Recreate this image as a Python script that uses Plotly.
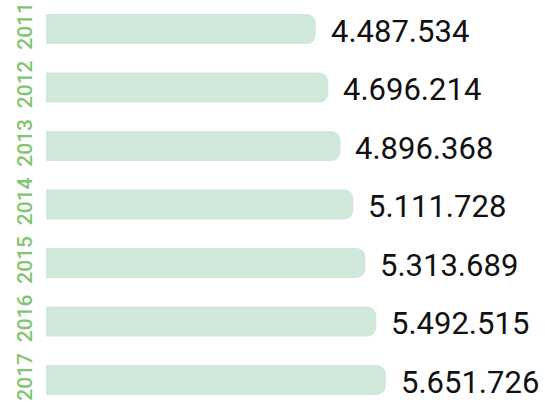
import plotly.graph_objects as go

years = ["2011", "2012", "2013", "2014", "2015", "2016", "2017"]
values = [4487534, 4696214, 4896368, 5111728, 5313689, 5492515, 5651726]
labels = ["4.487.534", "4.696.214", "4.896.368", "5.111.728", "5.313.689", "5.492.515", "5.651.726"]

fig = go.Figure(go.Bar(
    x=values, y=years, orientation="h",
    marker=dict(color="#cfe8da", line=dict(width=0), cornerradius=9),
    hoverinfo="skip",
))

for i, (v, t) in enumerate(zip(values, labels)):
    fig.add_annotation(x=v, y=i, xref="x", yref="y", text=t, showarrow=False,
                       xanchor="left", yanchor="middle",
                       xshift=13, yshift=-2,
                       font=dict(family="Roboto", size=31, color="#111111"))

fig.update_layout(
    width=545, height=402,
    margin=dict(l=46, r=0, t=0, b=0),
    paper_bgcolor="white", plot_bgcolor="white",
    bargap=0.487, showlegend=False,
    xaxis=dict(range=[0, 8.3e6], visible=False, automargin=False),
    yaxis=dict(type="category", range=[6.376, -0.496], tickangle=-90,
               tickfont=dict(family="Roboto", size=21, color="#80c56f", weight=500),
               showgrid=False, zeroline=False, showline=False, ticks="",
               ticklabelstandoff=9, automargin=False),
)

fig.write_html("out.html", config={"displayModeBar": False},
               post_script="document.body.style.margin='0';")
